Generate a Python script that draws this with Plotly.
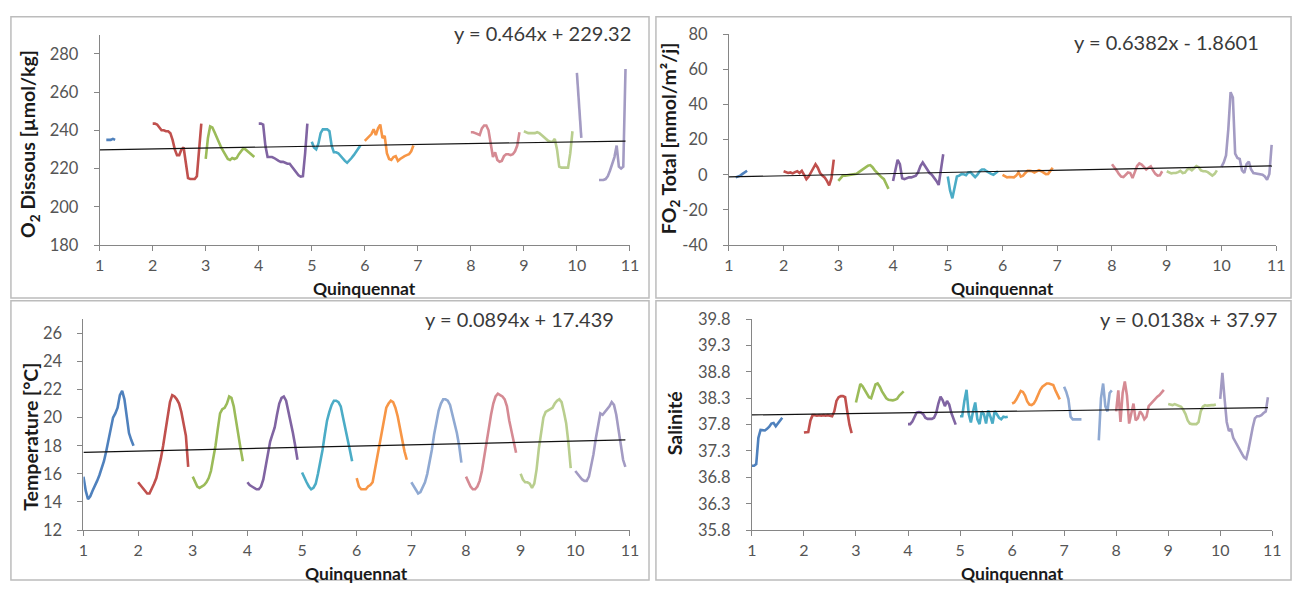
import plotly.graph_objects as go

W, H = 1304, 591
N = None

# Positions inside each quinquennat (half-month steps over the 12 months)
month_steps = [k / 24 for k in range(23)]
quinquennats = list(range(1, 11))
x_ticks = list(range(1, 12))

series_colors = ["#4F81BD", "#C0504D", "#9BBB59", "#8064A2", "#4BACC6",
                 "#F79646", "#8FA9D2", "#D58A93", "#B9CE8E", "#A39BC3"]

# O2 dissous [µmol/kg], one list per quinquennat
o2_dissous = [
    [N, N, N, 235, 235, 235, 235.5, 235, N, N, N, N, N, N, N, N, N, N, N, N, N, N, N],
    [243.5, 243.5, 243, 241.5, 240, 240, 239.5, 239.5, 238.5, 235, 230, 227, 227, 230, 231, 223, 215, 214.5, 214.5, 214.5, 216, 228, 243.5],
    [225, 236, 242, 241.5, 239, 236, 233.5, 231, 229, 227, 225, 224.5, 225.5, 225, 225.5, 227.5, 229, 230.5, 230, 229, 228.5, 227.5, 226],
    [243.5, 243.5, 243, 232, 226, 226, 226, 225.5, 224.5, 224, 223.5, 223.5, 223, 222.5, 222.5, 221, 220, 218, 216.5, 215.8, 216, 228, 243.5],
    [234, 231, 230, 233, 238.5, 240.5, 240.5, 240.5, 239.5, 232, 228.5, 228.5, 228, 226.5, 225.5, 224, 223, 224, 225.5, 227, 228.5, 230, 232],
    [234.5, 235.5, 237, 238, 240.5, 237.5, 241, 243, 236, 237, 228, 225, 224.5, 226, 226.5, 224, 225, 226, 226.5, 227, 227.5, 229, 232],
    [N] * 23,
    [239, 239, 238.5, 238, 237.5, 241, 242.5, 242.5, 240, 233, 226, 228.5, 224.5, 223.5, 224, 226.5, 227.5, 227.5, 227, 227.5, 229, 232, 239],
    [239.5, 239, 238.5, 238.5, 238.5, 238.5, 239, 238.5, 237.5, 236.5, 235, 234.5, 234, 234, 235.5, 230, 221, 220.5, 220.5, 220.5, 220.5, 228, 239.5],
    [270, 253, 236, N, N, N, N, N, N, N, 214, 214, 214, 214.5, 216, 219, 222, 226, 232, 221, 220, 221, 272],
]

# FO2 total [mmol/m²/j]
fo2_total = [
    [N, N, N, -1.5, -1, -0.5, 0.5, 1.5, 2.3, N, N, N, N, N, N, N, N, N, N, N, N, N, N],
    [2, 1.5, 1, 1.3, 0.8, 1.5, 2, 1, 2.2, 0, -2.5, -1, 1.5, 4, 6, 4, 1, -0.5, -1.5, -3.5, -6, -2, 8.6],
    [-3.5, -2, -0.5, -0.5, -0.3, -0.5, -0.3, 0, 0.5, 1.5, 2.5, 3.5, 4.5, 5.2, 5.5, 4.3, 2.5, 1, -0.5, -1.5, -2.5, -5, -8],
    [-3.5, 2, 8.5, 6, -2, -2.5, -2, -1.5, -1.5, -1, -0.5, 1.5, 5, 7, 5, 3, 1, 0, -1.5, -3.5, -5.8, 4, 11.7],
    [-1, -9, -13.4, -6, -1, -0.5, 0.4, 0.3, -0.2, 1.3, 1.5, 0, -1.3, 0, 2, 3, 3, 2, 1, 0.5, 0, 1, 2],
    [0, -1, -1.5, -1.3, -1.5, -1.5, -0.5, 1.3, -1, -0.5, 1, 2.2, 2.2, 2, 1.3, 2, 2.6, 2, 1, 0.4, 0.5, 2, 4],
    [N] * 23,
    [6, 4.5, 2.5, 0.5, -1, -1.3, 0, 1.3, 1, -1.8, 1.5, 5, 6.5, 5.8, 4.5, 3, 4, 4.8, 2.5, 0.5, -0.5, -0.3, 2],
    [2, 1.5, 0.8, 1, 1, 1.5, 2.2, 1, 1.2, 3, 3.5, 2.5, 4, 5, 4.3, 2.5, 2, 2, 1.5, 0.5, -0.5, 0.5, 2.5],
    [4.5, 7, 11, 26, 47, 44, 12, 9.5, 9, 2.5, 1, 6, 7.5, 3, 1, 0.8, 0.5, 0, 0, -1, -2.8, 0.5, 17],
]

# Temperature [°C]
temperature = [
    [15.8, 14.8, 14.2, 14.4, 14.8, 15.1, 15.5, 15.9, 16.4, 16.9, 17.6, 18.4, 19.4, 20.0, 20.3, 20.7, 21.6, 21.9, 21.3, 20.2, 18.9, 18.4, 18.0],
    [15.4, 15.2, 15.0, 14.8, 14.6, 14.6, 14.9, 15.3, 15.7, 16.3, 17.1, 18.0, 19.0, 20.2, 21.1, 21.6, 21.5, 21.3, 21.0, 20.4, 19.6, 18.7, 16.5],
    [15.8, 15.4, 15.1, 15.0, 15.1, 15.2, 15.4, 15.7, 16.2, 17.0, 18.0, 19.2, 20.3, 20.6, 20.7, 21.0, 21.5, 21.4, 20.8, 19.8, 18.7, 17.8, 16.9],
    [15.4, 15.2, 15.1, 15.0, 14.9, 14.9, 15.1, 15.6, 16.5, 17.6, 18.3, 18.8, 19.3, 20.2, 21.0, 21.4, 21.5, 21.2, 20.5, 19.6, 18.9, 18.0, 17.0],
    [16.1, 15.7, 15.4, 15.1, 14.9, 15.0, 15.3, 16.0, 16.8, 17.7, 18.8, 19.8, 20.4, 20.9, 21.2, 21.2, 21.1, 20.8, 20.0, 19.3, 18.6, 17.7, 16.9],
    [15.7, 15.1, 14.9, 14.9, 14.9, 15.1, 15.2, 15.4, 16.3, 17.2, 18.2, 19.2, 20.1, 20.7, 21.0, 21.2, 21.1, 20.7, 20.1, 19.2, 18.4, 17.6, 17.0],
    [15.4, 15.1, 14.8, 14.6, 14.7, 15.0, 15.4, 16.0, 16.8, 17.7, 18.8, 19.8, 20.5, 21.0, 21.3, 21.3, 21.2, 20.9, 20.3, 19.6, 18.9, 18.0, 16.8],
    [15.8, 15.4, 15.1, 14.9, 14.9, 15.1, 15.5, 16.2, 17.1, 18.2, 19.2, 20.2, 21.0, 21.5, 21.7, 21.6, 21.5, 21.3, 20.8, 19.8, 19.0, 18.1, 17.5],
    [16.0, 15.6, 15.4, 15.4, 15.3, 15.0, 15.3, 16.3, 17.8, 19.1, 20.0, 20.4, 20.5, 20.6, 20.7, 21.0, 21.2, 21.3, 21.1, 20.4, 19.6, 18.2, 16.4],
    [16.2, 16.0, 15.8, 15.6, 15.5, 15.5, 15.8, 16.5, 17.4, 18.5, 19.5, 20.3, 20.2, 20.4, 20.6, 20.8, 21.1, 20.9, 20.2, 19.2, 18.0, 17.0, 16.5],
]

# Salinité
salinite = [
    [37.02, 37.02, 37.05, 37.55, 37.70, 37.70, 37.69, 37.72, 37.76, 37.82, 37.83, 37.77, 37.82, 37.88, 37.93, N, N, N, N, N, N, N, N],
    [37.65, 37.65, 37.66, 37.88, 37.98, 37.98, 37.97, 37.98, 37.97, 37.98, 37.97, 37.98, 37.97, 37.96, 38.05, 38.25, 38.32, 38.34, 38.34, 38.32, 38.05, 37.80, 37.64],
    [38.22, 38.42, 38.57, 38.53, 38.45, 38.37, 38.32, 38.30, 38.45, 38.56, 38.58, 38.52, 38.43, 38.36, 38.30, 38.27, 38.26, 38.26, 38.27, 38.29, 38.35, 38.40, 38.43],
    [37.81, 37.81, 37.86, 37.95, 38.03, 38.04, 38.03, 38.00, 37.93, 37.91, 37.91, 37.91, 37.93, 38.02, 38.20, 38.33, 38.26, 38.15, 38.25, 38.18, 38.02, 37.90, 37.80],
    [37.96, 37.96, 38.25, 38.46, 38.00, 37.84, 38.05, 38.22, 37.90, 37.81, 38.05, 38.00, 37.82, 38.07, 37.95, 37.82, 38.06, 37.98, 37.93, 37.90, 37.95, 37.94, 37.95],
    [38.20, 38.22, 38.28, 38.36, 38.44, 38.42, 38.35, 38.24, 38.18, 38.17, 38.20, 38.27, 38.38, 38.46, 38.52, 38.55, 38.58, 38.58, 38.57, 38.55, 38.45, 38.35, 38.28],
    [38.52, 38.42, 38.28, 37.95, 37.90, 37.90, 37.90, 37.90, 37.90, N, N, N, N, N, N, N, 37.50, 38.30, 38.58, 38.15, 38.05, 38.40, 38.45],
    [38.05, 38.45, 37.85, 38.40, 38.62, 38.35, 37.82, 38.00, 38.20, 37.88, 37.92, 38.05, 38.00, 37.90, 37.95, 38.15, 38.20, 38.25, 38.28, 38.33, 38.36, 38.42, 38.46],
    [38.19, 38.18, 38.17, 38.19, 38.17, 38.15, 38.14, 38.08, 38.00, 37.88, 37.82, 37.81, 37.81, 37.81, 37.85, 38.05, 38.14, 38.17, 38.16, 38.17, 38.17, 38.17, 38.18],
    [38.29, 38.78, 38.30, 37.85, 37.68, 37.72, 37.55, 37.47, 37.40, 37.32, 37.25, 37.18, 37.15, 37.32, 37.55, 37.75, 37.92, 37.96, 37.96, 37.98, 38.02, 38.05, 38.32],
]

# Linear trend coefficients (slope, intercept)
trend_o2 = (0.464, 229.32)
trend_fo2 = (0.6382, -1.8601)
trend_temp = (0.0894, 17.439)
trend_sal = (0.0138, 37.97)

FONT = "Lato"
TICK_COLOR = "#555555"
AXIS_COLOR = "#868686"

# panel definitions: plot-area pixel box (left, top, right, bottom)
panels = [
    dict(data=o2_dissous, trend=trend_o2, box=(95.7, 25.5, 631.7, 243.3),
         yrange=[180, 290], yticks=[180, 200, 220, 240, 260, 280], fmt="{:.0f}",
         ytitle="O<sub>2</sub> Dissous [µmol/kg]", ytitle_pos=(25, 139),
         eq="y = 0.464x + 229.32", eq_pos=(635, 24), xtitle_y=288),
    dict(data=fo2_total, trend=trend_fo2, box=(731.7, 25.0, 1285.0, 243.3),
         yrange=[-40, 80], yticks=[-40, -20, 0, 20, 40, 60, 80], fmt="{:.0f}",
         ytitle="FO<sub>2</sub> Total [mmol/m²/j]", ytitle_pos=(673, 133),
         eq="y = 0.6382x - 1.8601", eq_pos=(1270, 33), xtitle_y=288),
    dict(data=temperature, trend=trend_temp, box=(79.3, 320.0, 631.7, 538.3),
         yrange=[12, 27], yticks=[12, 14, 16, 18, 20, 22, 24, 26], fmt="{:.0f}",
         ytitle="Temperature [°C]", ytitle_pos=(25, 442),
         eq="y = 0.0894x + 17.439", eq_pos=(618, 320), xtitle_y=583),
    dict(data=salinite, trend=trend_sal, box=(755.0, 320.0, 1281.0, 538.3),
         yrange=[35.8, 39.8], yticks=[35.8, 36.3, 36.8, 37.3, 37.8, 38.3, 38.8, 39.3, 39.8], fmt="{:.1f}",
         ytitle="Salinité", ytitle_pos=(677, 428),
         eq="y = 0.0138x + 37.97", eq_pos=(1288, 320), xtitle_y=583),
]

fig = go.Figure()
annotations = []
shapes = []
layout = {}

for i, p in enumerate(panels, start=1):
    xa = "x" if i == 1 else f"x{i}"
    ya = "y" if i == 1 else f"y{i}"
    for q, values, color in zip(quinquennats, p["data"], series_colors):
        fig.add_trace(go.Scatter(
            x=[q + s for s in month_steps], y=values, mode="lines",
            line=dict(color=color, width=2.6), connectgaps=False,
            xaxis=xa, yaxis=ya, showlegend=False, hoverinfo="skip"))
    slope, intercept = p["trend"]
    x0 = quinquennats[0] + month_steps[0]
    x1 = quinquennats[-1] + month_steps[-1]
    fig.add_trace(go.Scatter(
        x=[x0, x1], y=[slope * x0 + intercept, slope * x1 + intercept],
        mode="lines", line=dict(color="#111111", width=1.2),
        xaxis=xa, yaxis=ya, showlegend=False, hoverinfo="skip"))

    l, t, r, b = p["box"]
    xkey = "xaxis" if i == 1 else f"xaxis{i}"
    ykey = "yaxis" if i == 1 else f"yaxis{i}"
    layout[xkey] = dict(
        domain=[l / W, r / W], range=[1, 11], anchor=ya,
        tickmode="array", tickvals=x_ticks, ticktext=[str(v) for v in x_ticks],
        ticks="outside", ticklen=5, tickcolor=AXIS_COLOR, tickwidth=1,
        showline=True, linecolor=AXIS_COLOR, linewidth=1,
        showgrid=False, zeroline=False, ticklabelstandoff=1,
        tickfont=dict(family=FONT, size=16, color=TICK_COLOR))
    layout[ykey] = dict(
        domain=[1 - b / H, 1 - t / H], range=p["yrange"], anchor=xa,
        tickmode="array", tickvals=p["yticks"],
        ticktext=[p["fmt"].format(v) for v in p["yticks"]],
        ticks="outside", ticklen=5, tickcolor=AXIS_COLOR, tickwidth=1,
        showline=True, linecolor=AXIS_COLOR, linewidth=1,
        showgrid=False, zeroline=False, ticklabelstandoff=12,
        tickfont=dict(family=FONT, size=16.5, color=TICK_COLOR))

    annotations.append(dict(
        text=p["eq"], x=p["eq_pos"][0] / W, y=1 - p["eq_pos"][1] / H,
        xref="paper", yref="paper", xanchor="right", yanchor="middle",
        showarrow=False, font=dict(family=FONT, size=20, color="#3a3a3a")))
    annotations.append(dict(
        text="<b>Quinquennat</b>", x=(l + r) / 2 / W, y=1 - p["xtitle_y"] / H,
        xref="paper", yref="paper", xanchor="center", yanchor="middle",
        showarrow=False, font=dict(family=FONT, size=17.5, color="#1a1a1a")))
    annotations.append(dict(
        text="<b>" + p["ytitle"] + "</b>", x=p["ytitle_pos"][0] / W,
        y=1 - p["ytitle_pos"][1] / H, textangle=-90,
        xref="paper", yref="paper", xanchor="center", yanchor="middle",
        showarrow=False, font=dict(family=FONT, size=19.5, color="#1a1a1a")))

# chart frames
for (x0, y0, x1, y1) in [(6, 7, 651, 298), (658, 7, 1300, 298),
                         (6, 301, 651, 590), (658, 301, 1300, 590)]:
    shapes.append(dict(type="rect", xref="paper", yref="paper",
                       x0=x0 / W, x1=x1 / W, y0=1 - y1 / H, y1=1 - y0 / H,
                       line=dict(color="#bcbcbc", width=1.5), fillcolor="rgba(0,0,0,0)"))

fig.update_layout(
    width=W, height=H, margin=dict(l=0, r=0, t=0, b=0),
    paper_bgcolor="white", plot_bgcolor="white",
    annotations=annotations, shapes=shapes, showlegend=False, **layout)

fig.write_html("out.html")
